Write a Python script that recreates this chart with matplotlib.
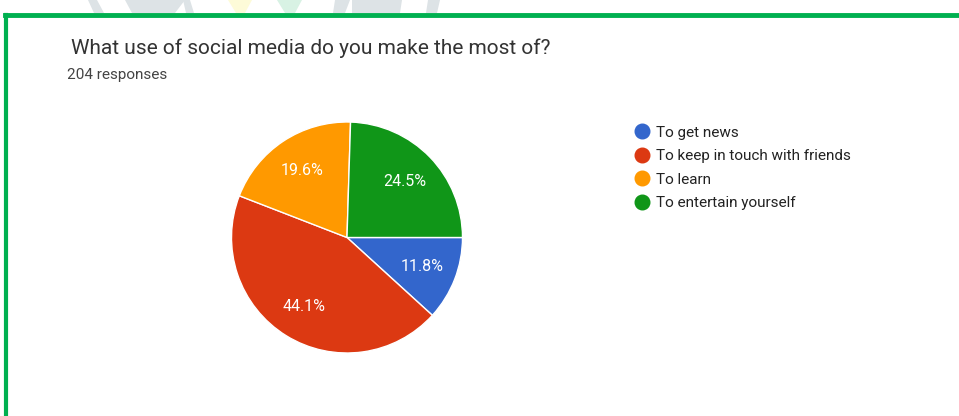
import matplotlib
matplotlib.use("Agg")
import matplotlib.pyplot as plt
from matplotlib.lines import Line2D
from matplotlib.patches import Polygon

plt.rcParams['font.family'] = ['Roboto', 'DejaVu Sans']

# data (counts out of 204 responses)
labels = ["To get news", "To keep in touch with friends", "To learn", "To entertain yourself"]
counts = [24, 90, 40, 50]
colors = ["#3366cc", "#dc3912", "#ff9900", "#109618"]
title = "What use of social media do you make the most of?"
subtitle = "204 responses"

W, H = 959, 416
fig = plt.figure(figsize=(W / 100, H / 100), dpi=100)


def px(x, y):
    return (x / W, 1 - y / H)


# faint watermark shapes peeking above the frame
for pts, c in [
    ([(88, 0), (97, 0), (104, 13), (94, 13)], "#dde3e6"),
    ([(125, 0), (185, 0), (175, 13), (132, 13)], "#dde3e6"),
    ([(183, 0), (190, 0), (194, 13), (186, 13)], "#dde3e6"),
    ([(228, 0), (252, 0), (245, 13), (236, 13)], "#fdfbd8"),
    ([(277, 0), (302, 0), (295, 13), (285, 13)], "#d8f2e4"),
    ([(335, 0), (350, 0), (345, 13), (333, 13)], "#dde3e6"),
    ([(352, 0), (402, 0), (400, 13), (352, 13)], "#dde3e6"),
    ([(428, 0), (440, 0), (437, 13), (426, 13)], "#dde3e6"),
]:
    fig.add_artist(Polygon([px(*p) for p in pts], closed=True, color=c, lw=0,
                           transform=fig.transFigure))

# green frame (top and left edges only)
fig.add_artist(Line2D([6 / W, 6 / W], [0, 1 - 14.5 / H], color="#00b050", lw=3, transform=fig.transFigure))
fig.add_artist(Line2D([4.5 / W, 1], [1 - 15 / H, 1 - 15 / H], color="#00b050", lw=3.5, transform=fig.transFigure))

fig.text(71 / W, 1 - 48 / H, title, fontsize=15, color="#333333", va="center")
fig.text(67 / W, 1 - 75 / H, subtitle, fontsize=11, color="#444444", va="center")

cx, cy, r = 347, 237.5, 115.5
ax = fig.add_axes([(cx - r) / W, 1 - (cy + r) / H, 2 * r / W, 2 * r / H])
wedges, _, autotexts = ax.pie(
    counts, colors=colors, startangle=0, counterclock=False,
    autopct="%1.1f%%", pctdistance=0.7,
    wedgeprops=dict(edgecolor="white", linewidth=1),
    textprops=dict(color="white", fontsize=11.5),
)
ax.set_xlim(-1, 1)
ax.set_ylim(-1, 1)
ax.set_aspect("auto")
ax.axis("off")

handles = [Line2D([0], [0], marker="o", ls="", markersize=10.5, markerfacecolor=c, markeredgecolor=c) for c in colors]
fig.legend(handles, labels, loc="upper left", bbox_to_anchor=(619 / W, 1 - 112 / H),
           frameon=False, fontsize=11, handletextpad=0.3, labelspacing=0.62,
           handlelength=1.2, labelcolor="#222222")

fig.savefig("out.png", dpi=100)
